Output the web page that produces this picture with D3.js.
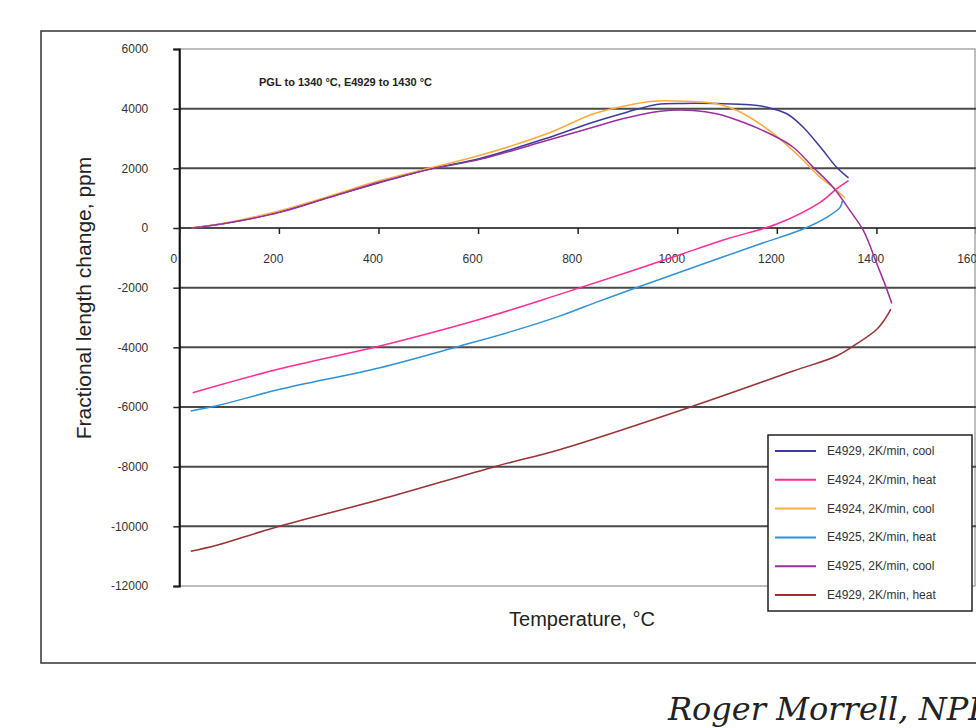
<!DOCTYPE html>
<html>
<head>
<meta charset="utf-8">
<script src="https://cdn.jsdelivr.net/npm/d3@7"></script>
<style>
  html, body { margin: 0; padding: 0; background: #fff; }
  svg { display: block; font-family: Arial, "Liberation Sans", Helvetica, sans-serif; }
</style>
</head>
<body>
<svg id="chart" width="976" height="728"></svg>
<script>
// Dilatometer runs: temperature (°C) vs fractional length change (ppm)
const seriesNames = [
  "E4929, 2K/min, cool",
  "E4924, 2K/min, heat",
  "E4924, 2K/min, cool",
  "E4925, 2K/min, heat",
  "E4925, 2K/min, cool",
  "E4929, 2K/min, heat"
];
const seriesColors = ["#3b3b9c", "#ff2d96", "#ffaa3c", "#2f92d8", "#9a2f9e", "#993333"];

const e4929Cool = [[25,0],[100,175],[202,540],[300,1030],[403,1520],[509,2000],[604,2330],[738,3010],[831,3547],[899,3883],[959,4141],[1012,4175],[1079,4170],[1146,4135],[1180,4051],[1220,3829],[1253,3379],[1293,2596],[1320,2035],[1344,1679]];
const e4924Heat = [[27,-5521],[202,-4720],[403,-3953],[604,-3057],[765,-2217],[899,-1491],[999,-930],[1099,-369],[1200,134],[1287,860],[1320,1310],[1344,1589]];
const e4924Cool = [[25,0],[100,190],[202,581],[300,1060],[403,1589],[509,2035],[604,2436],[738,3157],[832,3829],[899,4108],[951,4252],[1012,4252],[1079,4165],[1120,3940],[1166,3493],[1206,2989],[1247,2371],[1287,1700],[1313,1364],[1337,1008]];
const e4925Heat = [[23,-6136],[75,-5960],[202,-5408],[403,-4682],[564,-3953],[671,-3449],[765,-2945],[845,-2442],[919,-1995],[1032,-1323],[1166,-537],[1253,-34],[1300,356],[1327,692],[1332,917]];
const e4925Cool = [[25,0],[100,180],[202,524],[300,1020],[403,1540],[509,1990],[604,2300],[738,2932],[831,3379],[899,3694],[966,3916],[1032,3940],[1079,3829],[1140,3493],[1193,3100],[1233,2707],[1273,2035],[1313,1364],[1347,581],[1374,-91],[1401,-1209],[1417,-1881],[1431,-2532]];
const e4929Heat = [[23,-10838],[75,-10637],[189,-10055],[403,-9102],[637,-7983],[765,-7422],[1032,-5968],[1233,-4793],[1320,-4289],[1354,-3953],[1401,-3392],[1417,-3056],[1429,-2720]];

const seriesData = [e4929Cool, e4924Heat, e4924Cool, e4925Heat, e4925Cool, e4929Heat];

const xTicks = [0, 200, 400, 600, 800, 1000, 1200, 1400, 1600];
const yTicks = [6000, 4000, 2000, 0, -2000, -4000, -6000, -8000, -10000, -12000];
const gridValues = [4000, 2000, 0, -2000, -4000, -6000, -8000, -10000];

const annotation = "PGL to 1340 °C, E4929 to 1430 °C";
const xTitle = "Temperature, °C";
const yTitle = "Fractional length change, ppm";
const credit = "Roger Morrell, NPL";

// plain hyphen-minus tick labels
const plainNumber = d => String(d);

const svg = d3.select("#chart");

// outer frame
svg.append("rect")
  .attr("x", 41).attr("y", 31).attr("width", 1000).attr("height", 632)
  .attr("fill", "none").attr("stroke", "#333").attr("stroke-width", 1.5);

const plot = { left: 179.3, right: 976, top: 49, bottom: 586 };
const x = d3.scaleLinear().domain([0, 1600]).range([plot.left, plot.right]);
const y = d3.scaleLinear().domain([-12000, 6000]).range([plot.bottom, plot.top]);

// plot area border (light)
svg.append("rect")
  .attr("x", plot.left).attr("y", plot.top)
  .attr("width", plot.right - plot.left - 1).attr("height", plot.bottom - plot.top)
  .attr("fill", "none").attr("stroke", "#a8a8a8").attr("stroke-width", 1.5);

// horizontal gridlines
svg.append("g").selectAll("line").data(gridValues).join("line")
  .attr("x1", plot.left).attr("x2", plot.right)
  .attr("y1", d => y(d)).attr("y2", d => y(d))
  .attr("stroke", "#4a4a4a").attr("stroke-width", 2);

// y axis
const yAxis = svg.append("g")
  .attr("transform", `translate(${plot.left},0)`)
  .call(d3.axisLeft(y).tickValues(yTicks).tickSize(6).tickPadding(25).tickFormat(plainNumber));
yAxis.select(".domain").attr("stroke", "#111").attr("stroke-width", 2);
yAxis.selectAll(".tick line").attr("stroke", "#222").attr("stroke-width", 1.5);
yAxis.selectAll(".tick text").attr("font-size", 12).attr("fill", "#333")
  .attr("font-family", "Arial, 'Liberation Sans', sans-serif");

// x axis along zero line
const xAxis = svg.append("g")
  .attr("transform", `translate(0,${y(0)})`)
  .call(d3.axisBottom(x).tickValues(xTicks).tickSize(6).tickPadding(20).tickFormat(plainNumber));
xAxis.select(".domain").remove();
xAxis.selectAll(".tick line").attr("stroke", "#222").attr("stroke-width", 1.5);
xAxis.selectAll(".tick text").attr("font-size", 12).attr("fill", "#333").attr("dx", -6)
  .attr("font-family", "Arial, 'Liberation Sans', sans-serif");

// data lines
const line = d3.line().x(d => x(d[0])).y(d => y(d[1])).curve(d3.curveCatmullRom.alpha(0.5));
svg.append("g").selectAll("path").data(seriesData).join("path")
  .attr("d", line)
  .attr("fill", "none")
  .attr("stroke", (d, i) => seriesColors[i])
  .attr("stroke-width", 1.5)
  .attr("stroke-linejoin", "round");

// annotation
svg.append("text")
  .attr("x", 259).attr("y", 86)
  .attr("font-size", 11).attr("font-weight", "bold").attr("fill", "#222")
  .text(annotation);

// axis titles
svg.append("text")
  .attr("x", 582).attr("y", 626).attr("text-anchor", "middle")
  .attr("font-size", 20).attr("fill", "#222")
  .text(xTitle);
svg.append("text")
  .attr("transform", "translate(91,298) rotate(-90)")
  .attr("text-anchor", "middle")
  .attr("font-size", 21).attr("fill", "#222")
  .text(yTitle);

// legend
const legend = svg.append("g").attr("transform", "translate(768,435)");
legend.append("rect")
  .attr("width", 204).attr("height", 176)
  .attr("fill", "#fff").attr("stroke", "#222").attr("stroke-width", 1.5);
const rows = legend.selectAll("g.row").data(seriesNames).join("g")
  .attr("class", "row")
  .attr("transform", (d, i) => `translate(0,${16 + i * 28.8})`);
rows.append("line")
  .attr("x1", 7).attr("x2", 48)
  .attr("stroke", (d, i) => seriesColors[i]).attr("stroke-width", 2);
rows.append("text")
  .attr("x", 59).attr("y", 4)
  .attr("font-size", 12).attr("fill", "#333")
  .text(d => d);

// credit line
svg.append("text")
  .attr("x", 668).attr("y", 720)
  .attr("font-family", "'DejaVu Serif', 'Liberation Serif', serif")
  .attr("font-style", "italic").attr("font-size", 32).attr("fill", "#222")
  .text(credit);
</script>
</body>
</html>
